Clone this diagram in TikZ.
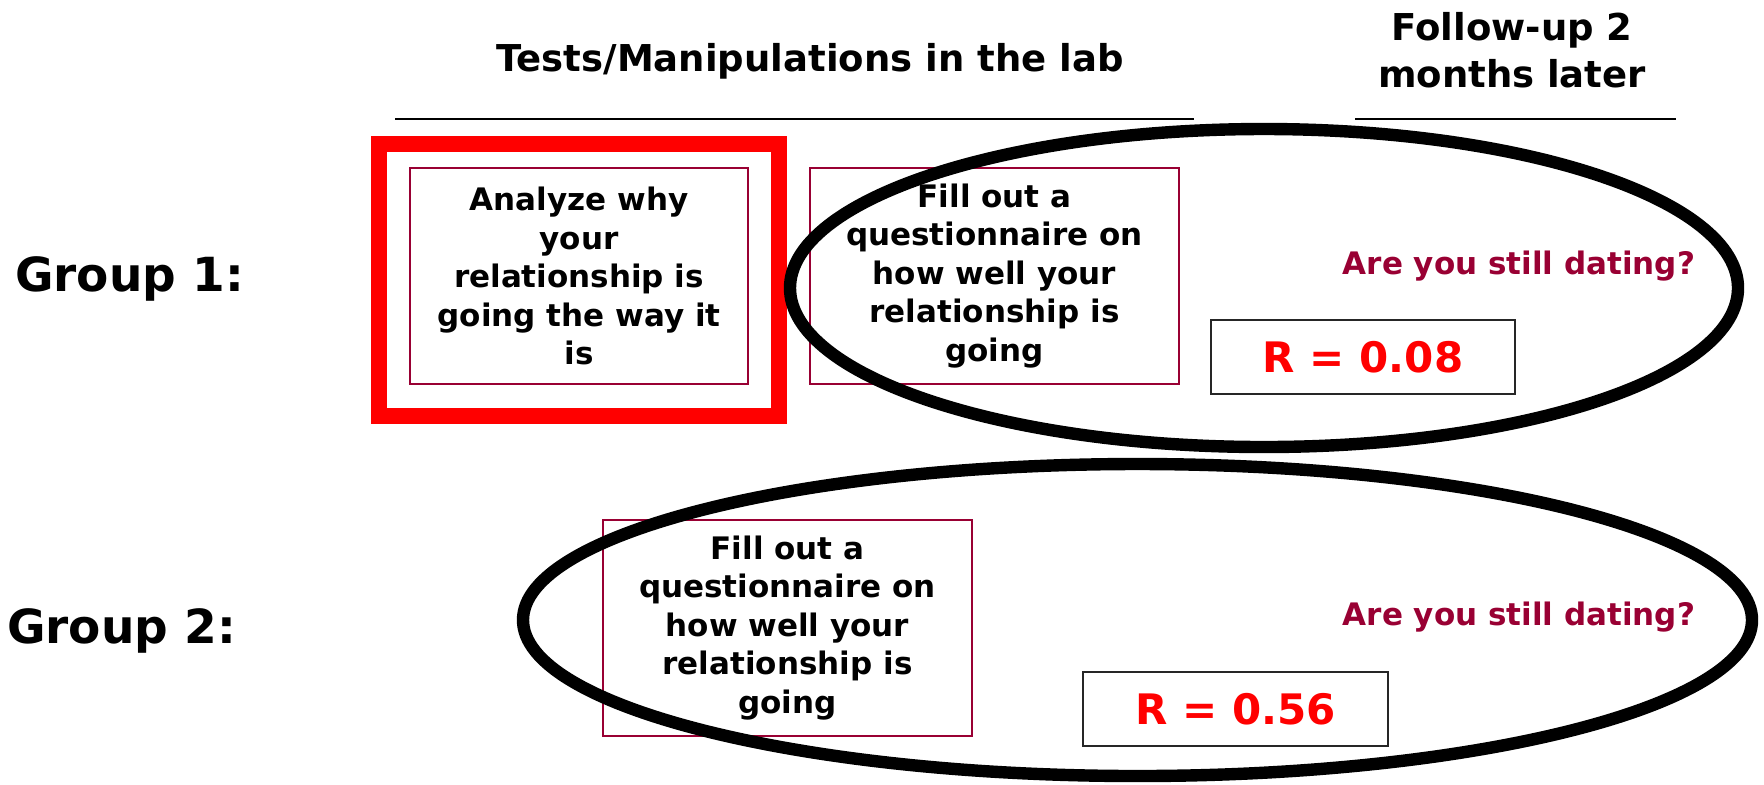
\documentclass[tikz,border=0pt]{standalone}
\usepackage{fontspec}
\setmainfont{DejaVu Sans}
\usetikzlibrary{shapes.geometric}
\definecolor{crimson}{HTML}{990033}
\definecolor{alarm}{HTML}{FF0000}
\begin{document}
\begin{tikzpicture}[x=0.5pt,y=-0.5pt,
  every node/.style={inner sep=0pt,outer sep=0pt},
  heading/.style={font=\fontsize{18.5}{23.5}\selectfont\bfseries,align=center},
  grouplabel/.style={font=\fontsize{23.5}{28}\selectfont\bfseries,anchor=base west},
  taskbox/.style={draw=crimson,line width=0.8pt,fill=white,
    minimum width=184.5pt,minimum height=108pt,align=center,
    font=\fontsize{15.5}{19.25}\selectfont\bfseries},
  question/.style={text=crimson,anchor=base east,
    font=\fontsize{15.5}{19}\selectfont\bfseries},
  resultbox/.style={draw=black!85,line width=0.8pt,fill=white,
    minimum width=152pt,minimum height=37pt,text=alarm,
    font=\fontsize{21}{25}\selectfont\bfseries},
  ring/.style={ellipse,draw=black,line width=6.2pt},
  rule/.style={line width=1pt,black}]
\useasboundingbox[fill=white] (0,0) rectangle (1764,784);

% column headings and their rules
\node[heading,anchor=base] (lab) at (810,71) {Tests/Manipulations in the lab};
\node[heading,anchor=base] (follow) at (1512,87) {Follow-up 2\\months later};
\coordinate (labL) at (395,119);  \coordinate (labR) at (1194,119);
\coordinate (fuL) at (1355,119);  \coordinate (fuR) at (1676,119);
\draw[rule] (labL) -- (labR);
\draw[rule] (fuL) -- (fuR);

% row labels
\node[grouplabel] (g1) at (15,291) {Group 1:};
\node[grouplabel] (g2) at (7,643) {Group 2:};

% group 1 tasks
\node[draw=alarm,line width=8pt,minimum width=200pt,minimum height=136pt] (hl) at (579,280) {};
\node[taskbox,minimum width=169pt] (analyze) at (579,276)
  {Analyze why\\your\\relationship is\\going the way it\\is};
\node[taskbox] (fill1) at (994.5,276)
  {Fill out a\\questionnaire on\\how well your\\relationship is\\going};

% group 2 task
\node[taskbox] (fill2) at (787.5,628)
  {Fill out a\\questionnaire on\\how well your\\relationship is\\going};

% follow-up answers and correlations
\node[question] (q1) at (1695,274) {Are you still dating?};
\node[question] (q2) at (1695,625) {Are you still dating?};
\node[resultbox] (r1) at (1363,357) {R = 0.08};
\node[resultbox,minimum width=152.5pt] (r2) at (1235.5,709) {R = 0.56};

% rings grouping questionnaire and outcome
\node[ring,minimum width=474pt,minimum height=159pt] (e1) at (1264,288) {};
\node[ring,minimum width=614.5pt,minimum height=156pt] (e2) at (1137.5,620) {};
\end{tikzpicture}
\end{document}
